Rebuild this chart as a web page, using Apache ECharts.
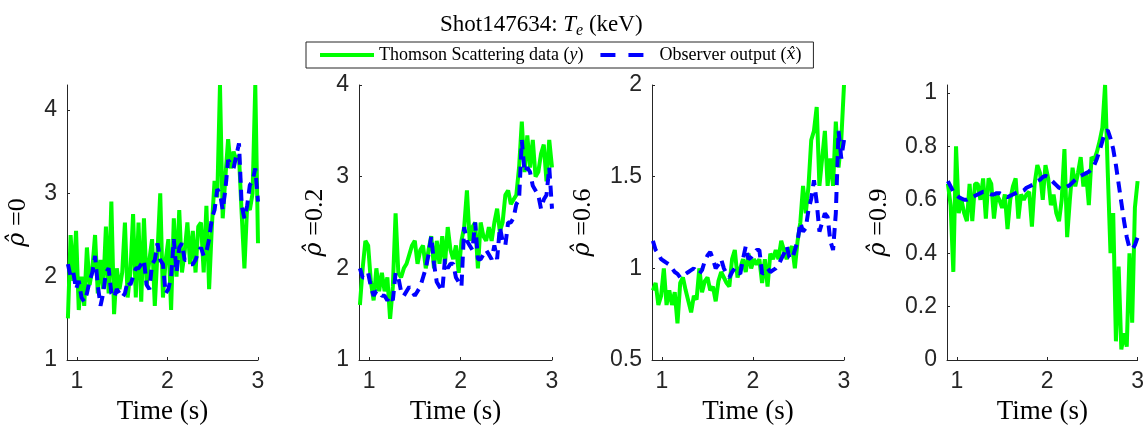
<!DOCTYPE html>
<html>
<head>
<meta charset="utf-8">
<title>Shot147634 Te</title>
<script src="https://cdn.jsdelivr.net/npm/echarts@6/dist/echarts.min.js"></script>
<style>
  html, body { margin: 0; padding: 0; background: #fff; }
  #chart { width: 1147px; height: 430px; }
</style>
</head>
<body>
<div id="chart"></div>
<script>
// sample times (s), shared by every trace
const time = [
  0.90, 0.93, 0.96, 0.99, 1.02, 1.05, 1.08, 1.11, 1.14, 1.17,
  1.20, 1.23, 1.26, 1.29, 1.32, 1.35, 1.38, 1.41, 1.44, 1.47,
  1.50, 1.53, 1.56, 1.59, 1.62, 1.65, 1.68, 1.71, 1.74, 1.77,
  1.80, 1.83, 1.86, 1.89, 1.92, 1.95, 1.98, 2.01, 2.04, 2.07,
  2.10, 2.13, 2.16, 2.19, 2.22, 2.25, 2.28, 2.31, 2.34, 2.37,
  2.40, 2.43, 2.46, 2.49, 2.52, 2.55, 2.58, 2.61, 2.64, 2.67,
  2.70, 2.73, 2.76, 2.79, 2.82, 2.85, 2.88, 2.91, 2.94, 2.97,
  3.00
];

const rhoLabels = ["0", "0.2", "0.6", "0.9"];
const xTicks = [1, 2, 3];
const yTicks = [[1, 2, 3, 4], [1, 2, 3, 4], [0.5, 1, 1.5, 2], [0, 0.2, 0.4, 0.6, 0.8, 1]];
const yRanges = [[1, 4.3], [1, 4], [0.5, 2], [0, 1.03]];

// Thomson scattering data (y), keV
const thomson0 = [
  1.5, 2.5, 1.95, 2.55, 1.6, 2.0, 1.65, 2.35, 1.9, 2.1,
  2.5, 1.8, 2.2, 1.85, 2.6, 1.8, 2.9, 1.55, 2.1, 1.85,
  2.05, 2.65, 1.75, 2.05, 2.75, 1.75, 2.65, 1.7, 2.7, 1.9,
  2.2, 2.45, 1.65, 2.3, 3.0, 1.75, 2.2, 2.45, 1.6, 2.7,
  2.0, 2.8, 2.05, 2.3, 2.65, 2.15, 2.55, 2.05, 2.6, 2.65,
  2.05, 2.85, 1.85, 2.6, 3.15, 2.95, 4.3, 2.7, 3.2, 3.65,
  3.3, 3.5, 3.4, 3.45, 2.75, 2.1, 2.85, 2.8, 3.0, 4.3,
  2.4
];
const thomson02 = [
  1.6, 2.0, 2.3, 2.25, 1.85, 1.65, 2.0, 1.75, 1.95, 1.75,
  1.9, 1.45, 1.8, 2.6, 1.95, 1.9, 2.0, 2.05, 2.15, 2.25,
  2.3, 2.05, 2.2, 2.25, 2.0, 2.2, 2.35, 2.0, 2.3, 2.05,
  2.35, 2.05, 2.45, 2.2, 2.1, 2.25, 1.95, 2.3, 2.45, 2.85,
  2.3, 2.45, 2.5, 2.0, 2.5, 2.35, 2.3, 2.45, 2.3, 2.5,
  2.65, 2.4, 2.5, 2.8, 2.85, 2.7, 2.75, 2.8, 3.1, 3.6,
  3.05, 3.45, 3.1, 3.4, 3.0, 3.05, 3.25, 3.35, 2.95, 3.4,
  3.1
];
const thomson06 = [
  0.88, 0.92, 0.8, 0.85, 1.0, 0.8, 0.88, 0.8, 0.87, 0.7,
  0.92, 0.95, 0.88, 0.82, 0.76, 0.85, 0.83, 1.0, 0.87, 0.93,
  0.95, 0.88, 0.9, 0.82, 0.93, 0.98, 0.95, 0.92, 0.9, 1.05,
  1.1, 0.95, 1.0, 1.05, 0.98, 1.08, 1.0, 1.05, 1.02, 1.05,
  0.92, 1.05, 0.9, 1.08, 1.05, 1.1, 1.05, 1.15, 1.1, 1.05,
  1.1, 1.12, 1.0, 1.15, 1.25, 1.45, 1.3, 1.45, 1.7, 1.75,
  1.88, 1.45, 1.6, 1.75, 1.45, 1.6, 1.45, 1.8, 1.55, 1.7,
  2.0
];
const thomson09 = [
  0.66, 0.58, 0.33, 0.8, 0.55, 0.6, 0.55, 0.52, 0.66, 0.52,
  0.66, 0.66, 0.6, 0.68, 0.53, 0.68, 0.66, 0.53, 0.62, 0.6,
  0.57, 0.62, 0.49, 0.6, 0.65, 0.68, 0.53, 0.62, 0.6, 0.62,
  0.63, 0.5, 0.66, 0.73, 0.7, 0.6, 0.73, 0.68, 0.58, 0.62,
  0.55, 0.52, 0.6, 0.79, 0.46, 0.6, 0.72, 0.65, 0.7, 0.76,
  0.65, 0.7, 0.58, 0.76, 0.75, 0.78, 0.82, 0.87, 1.03, 0.7,
  0.4, 0.55, 0.07, 0.35, 0.04, 0.1, 0.05, 0.4, 0.14, 0.57,
  0.67
];

// observer output (x hat), keV
const observer0 = [
  2.15, 2.0, 2.05, 1.85, 1.95, 1.75, 1.7, 1.8, 1.95, 2.05,
  2.25, 1.9, 1.65, 1.8, 2.05, 2.1, 1.8, 1.75, 1.85, 1.8,
  1.75, 1.8, 1.95, 1.9, 2.0, 2.1, 2.1, 2.15, 2.2, 1.9,
  1.85, 2.15, 2.2, 2.4, 2.2, 2.15, 1.8, 1.85, 2.0, 2.45,
  2.05, 2.35, 2.4, 2.2, 2.2, 2.15, 2.15, 2.2, 2.3, 2.35,
  2.25, 2.3, 2.45, 2.7, 2.8, 3.05, 3.0, 2.8, 3.05, 3.4,
  3.35, 3.3, 3.45, 3.6, 2.85, 2.7, 2.85, 3.1, 3.15, 3.3,
  2.9
];
const observer02 = [
  2.0, 1.9, 1.9, 1.95, 1.8, 1.7, 1.75, 1.75, 1.7, 1.7,
  1.65, 1.7, 1.65, 1.95, 1.9, 1.75, 1.7, 1.75, 1.8, 1.75,
  1.7, 1.75, 1.8, 1.9, 2.0, 2.15, 2.35, 2.05, 1.85, 1.8,
  1.75, 2.1, 2.0, 2.05, 2.05, 1.9, 1.85, 1.8, 2.45, 2.3,
  2.25, 2.2, 2.5, 2.1, 2.1, 2.15, 2.2, 2.15, 2.1, 2.25,
  2.1, 2.45, 2.3, 2.25, 2.5, 2.5, 2.55, 2.7, 2.75, 3.4,
  3.05, 3.1, 3.05, 2.9, 2.85, 2.8, 2.65, 2.75, 2.8, 3.1,
  2.65
];
const observer06 = [
  1.15, 1.1, 1.08, 1.05, 1.04, 1.03, 1.02, 1.0, 0.98, 0.97,
  0.95, 0.96, 0.97, 0.98, 0.99, 1.0, 0.98, 0.97, 0.99, 1.04,
  1.07, 1.09, 1.05, 1.0, 1.02, 1.05, 1.0, 0.97, 0.95, 0.98,
  1.0, 0.98, 0.97, 1.05, 1.12, 1.05, 1.06, 1.08, 1.1, 1.1,
  0.97, 0.98, 1.0, 0.98, 0.99, 1.0, 1.02, 1.05, 1.08, 1.12,
  1.06, 1.05, 1.1, 1.15, 1.25, 1.2, 1.22, 1.32, 1.38, 1.48,
  1.36, 1.2, 1.25, 1.3, 1.28, 1.15, 1.1, 1.3, 1.75, 1.6,
  1.7
];
const observer09 = [
  0.67, 0.65, 0.63, 0.62, 0.61, 0.605, 0.6, 0.6, 0.605, 0.61,
  0.615, 0.62, 0.625, 0.63, 0.63, 0.625, 0.62, 0.62, 0.625, 0.625,
  0.62, 0.615, 0.61, 0.615, 0.62, 0.625, 0.63, 0.63, 0.635, 0.645,
  0.65, 0.655, 0.66, 0.67, 0.675, 0.685, 0.69, 0.685, 0.675, 0.665,
  0.655, 0.645, 0.64, 0.645, 0.65, 0.655, 0.665, 0.675, 0.685, 0.69,
  0.695, 0.7, 0.705, 0.715, 0.73, 0.755, 0.785, 0.82, 0.855, 0.86,
  0.83, 0.79, 0.73, 0.66, 0.59, 0.52, 0.46, 0.42, 0.415, 0.43,
  0.46
];

const thomson = [thomson0, thomson02, thomson06, thomson09];
const observer = [observer0, observer02, observer06, observer09];

const GREEN = "#00ff00";
const BLUE = "#0000ff";
const INK = "#262626";
const SERIF = "'Liberation Serif', 'DejaVu Serif', serif";
const MATH = "'DejaVu Serif', serif"; // has proper combining hats
const SANS = "'Liberation Sans', Arial, sans-serif";
const TS_NAME = "Thomson Scattering data";
const OBS_NAME = "Observer output";

// panel boxes in px, and how far the rotated y name sits from the axis
const panels = [
  { left: 67, width: 191, nameGap: 36 },
  { left: 359, width: 193, nameGap: 31 },
  { left: 652, width: 192, nameGap: 56 },
  { left: 947, width: 191, nameGap: 55 },
];
const TOP = 85, HEIGHT = 275;

const pairs = (values) => time.map((t, i) => [t, values[i]]);
const hidden = { opacity: 0, color: "rgba(0,0,0,0)", borderWidth: 0 };

const option = {
  animation: false,
  backgroundColor: "#fff",
  title: {
    text: "Shot147634: {i|T}{sub|e} (keV)",
    left: 435,
    top: 6,
    textStyle: {
      fontFamily: SERIF, fontSize: 23, fontWeight: "normal", color: "#000",
      rich: {
        i: { fontFamily: SERIF, fontSize: 23, fontStyle: "italic", color: "#000" },
        sub: { fontFamily: SERIF, fontSize: 16, fontStyle: "italic", color: "#000", padding: [12, 0, 0, 0] },
      },
    },
  },
  legend: {
    left: 306,
    top: 42,
    padding: [4, 12, 4, 12],
    itemGap: 15,
    itemWidth: 54,
    itemHeight: 14,
    borderColor: INK,
    borderWidth: 1,
    data: [
      { name: TS_NAME, itemStyle: hidden, lineStyle: { color: GREEN, width: 4, type: "solid" } },
      { name: OBS_NAME, itemStyle: hidden, lineStyle: { color: BLUE, width: 4, type: [15, 13] } },
    ],
    formatter: (name) => name === TS_NAME ? `${TS_NAME} ({i|y})` : `${OBS_NAME} ({m|x̂})`,
    textStyle: {
      fontFamily: SERIF, fontSize: 18, color: "#000",
      rich: {
        i: { fontFamily: SERIF, fontSize: 18, fontStyle: "italic", color: "#000" },
        m: { fontFamily: MATH, fontSize: 16, fontStyle: "italic", color: "#000" },
      },
    },
  },
  grid: panels.map((p) => ({ left: p.left, top: TOP, width: p.width, height: HEIGHT, containLabel: false })),
  xAxis: panels.map((p, i) => ({
    type: "value",
    gridIndex: i,
    min: 0.89,
    max: 3,
    name: "Time (s)",
    nameLocation: "middle",
    nameGap: 38,
    nameTextStyle: { fontFamily: SERIF, fontSize: 27, color: "#000" },
    axisLine: { show: true, onZero: false, lineStyle: { color: INK, width: 1 } },
    axisTick: { show: true, inside: true, length: 3, customValues: xTicks, lineStyle: { color: INK } },
    axisLabel: { customValues: xTicks, margin: 10, fontFamily: SANS, fontSize: 23, color: INK },
    splitLine: { show: false },
  })),
  yAxis: panels.map((p, i) => ({
    type: "value",
    gridIndex: i,
    min: yRanges[i][0],
    max: yRanges[i][1],
    name: `{m|ρ̂} =${rhoLabels[i]}`,
    nameLocation: "middle",
    nameGap: p.nameGap,
    nameTextStyle: {
      fontFamily: SERIF, fontSize: 26, color: "#000",
      rich: { m: { fontFamily: MATH, fontSize: 24, fontStyle: "italic", color: "#000" } },
    },
    axisLine: { show: true, onZero: false, lineStyle: { color: INK, width: 1 } },
    axisTick: { show: true, inside: true, length: 3, customValues: yTicks[i], lineStyle: { color: INK } },
    axisLabel: { customValues: yTicks[i], margin: 10, fontFamily: SANS, fontSize: 23, color: INK },
    splitLine: { show: false },
  })),
  series: panels.flatMap((p, i) => [
    {
      name: TS_NAME,
      type: "line",
      xAxisIndex: i,
      yAxisIndex: i,
      symbol: "none",
      lineStyle: { color: GREEN, width: 4 },
      itemStyle: { color: GREEN },
      data: pairs(thomson[i]),
      z: 2,
    },
    {
      name: OBS_NAME,
      type: "line",
      xAxisIndex: i,
      yAxisIndex: i,
      symbol: "none",
      lineStyle: { color: BLUE, width: 4, type: [11, 7] },
      itemStyle: { color: BLUE },
      data: pairs(observer[i]),
      z: 3,
    },
  ]),
};

const chart = echarts.init(document.getElementById("chart"), undefined, { renderer: "canvas" });
chart.setOption(option);
window.addEventListener("resize", () => chart.resize());
</script>
</body>
</html>
